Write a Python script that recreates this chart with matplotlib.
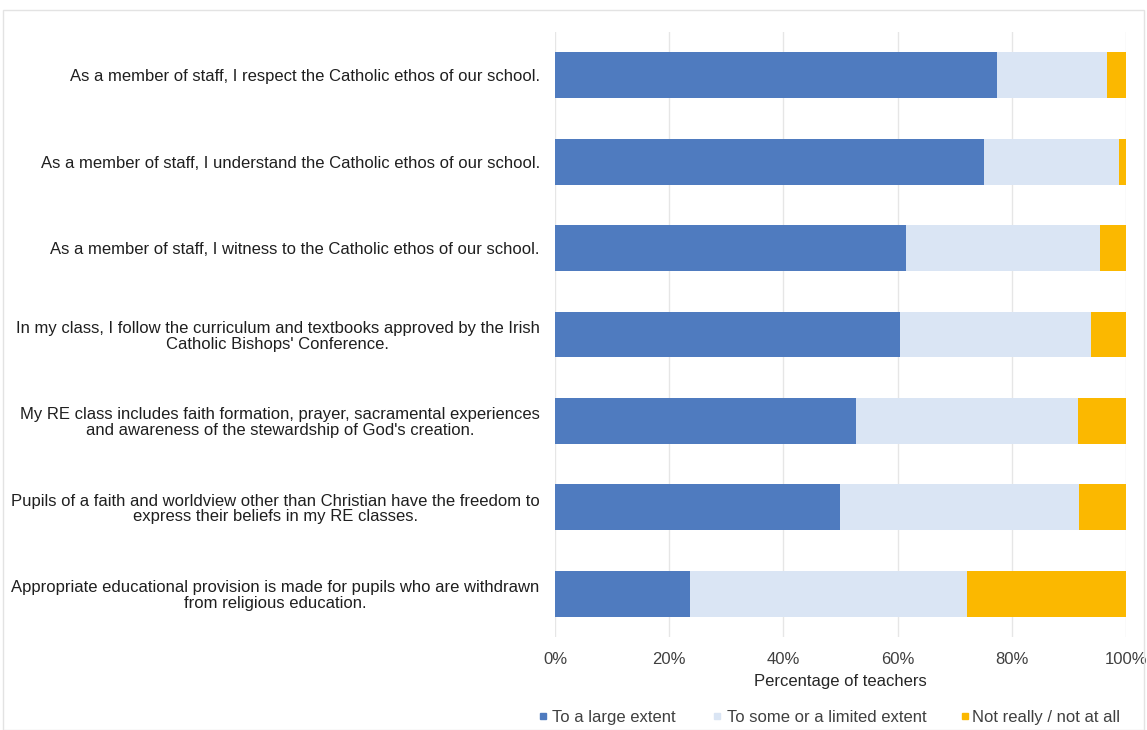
import matplotlib.pyplot as plt
from matplotlib.patches import Rectangle
from matplotlib.lines import Line2D

statements = [
    "As a member of staff, I respect the Catholic ethos of our school.",
    "As a member of staff, I understand the Catholic ethos of our school.",
    "As a member of staff, I witness to the Catholic ethos of our school.",
    "In my class, I follow the curriculum and textbooks approved by the Irish\nCatholic Bishops' Conference.",
    "My RE class includes faith formation, prayer, sacramental experiences\nand awareness of the stewardship of God's creation.",
    "Pupils of a faith and worldview other than Christian have the freedom to\nexpress their beliefs in my RE classes.",
    "Appropriate educational provision is made for pupils who are withdrawn\nfrom religious education.",
]
large_extent = [77.4, 75.1, 61.5, 60.5, 52.7, 49.9, 23.6]
some_extent = [19.2, 23.6, 33.9, 33.3, 38.9, 41.9, 48.6]
not_at_all = [3.4, 1.3, 4.6, 6.2, 8.4, 8.2, 27.8]

series_names = ["To a large extent", "To some or a limited extent", "Not really / not at all"]
colors = ["#4F7BBF", "#DAE5F4", "#FBB800"]

plt.rcParams['font.family'] = ['Liberation Sans', 'DejaVu Sans']

W, H = 1147, 730
fig = plt.figure(figsize=(W / 100, H / 100), dpi=100)
ax = fig.add_axes([555 / W, 1 - 637 / H, 571 / W, 605 / H])

y = list(range(len(statements)))
left = [0.0] * len(statements)
for vals, color in zip([large_extent, some_extent, not_at_all], colors):
    ax.barh(y, vals, left=left, height=0.53, color=color, zorder=3)
    left = [a + b for a, b in zip(left, vals)]

ax.set_xlim(0, 100)
ax.set_ylim(len(statements) - 0.5, -0.5)
ax.set_xticks([0, 20, 40, 60, 80, 100])
ax.set_xticklabels([f"{t}%" for t in [0, 20, 40, 60, 80, 100]], fontsize=12, color="#404040")
ax.set_yticks(y)
ax.set_yticklabels(statements, fontsize=12, color="#1F1F1F", multialignment="center",
                   linespacing=1.05)
ax.tick_params(axis="y", length=0, pad=11)
ax.tick_params(axis="x", length=0, pad=11)
ax.grid(axis="x", color="#E6E6E6", linewidth=1, zorder=0)
for s in ax.spines.values():
    s.set_visible(False)
ax.set_xlabel("Percentage of teachers", fontsize=12, color="#262626", labelpad=5)

# legend entries along the bottom
legend_marker_x = [543, 717, 965]
legend_text_x = [552, 727, 972]
legend_y = 1 - 716 / H
for mx, tx, name, c in zip(legend_marker_x, legend_text_x, series_names, colors):
    fig.add_artist(Line2D([mx / W], [legend_y], marker="s", linestyle="none", markersize=5,
                          markerfacecolor=c, markeredgecolor=c, transform=fig.transFigure))
    fig.text(tx / W, legend_y, name, fontsize=12, color="#404040",
             ha="left", va="center_baseline")

fig.add_artist(Rectangle((3 / W, 0), 1141 / W, 1 - 10 / H, transform=fig.transFigure,
                         fill=False, edgecolor="#E3E3E3", linewidth=1))

fig.savefig("out.png", dpi=100)
